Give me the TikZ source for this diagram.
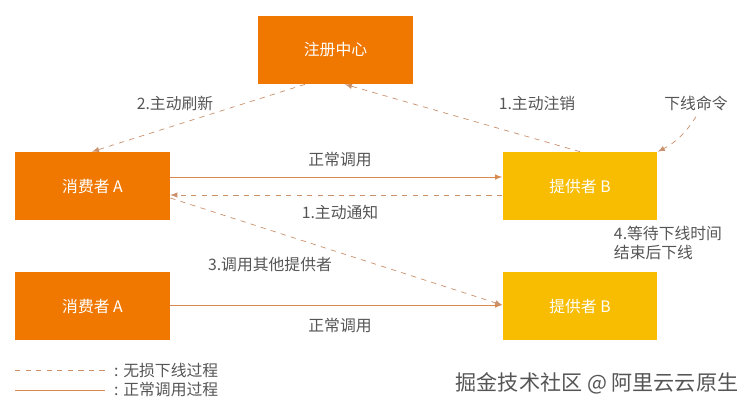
\documentclass[tikz,border=0pt]{standalone}
\usepackage{fontspec}
\setmainfont{Noto Sans CJK SC}
\usetikzlibrary{positioning}
\definecolor{boxorange}{HTML}{F07800}
\definecolor{boxyellow}{HTML}{F8BC00}
\definecolor{linecol}{HTML}{D98A4E}
\definecolor{dashcol}{HTML}{C9906A}
\definecolor{txtgray}{HTML}{555555}
\tikzset{
    consumer/.style = {
        draw = none,
        fill            = boxorange,
        text = white,
        minimum width = 3.1cm,
        minimum height = 1.36cm,
        font = \small,
    },
    provider/.style = {
        consumer,
        fill = boxyellow,
    },
    call/.style = {->,draw=linecol,>=latex},
    lossless/.style = {->,draw=dashcol,dashed,>=latex},
    lbl/.style = {text=txtgray,font=\small},
}
\begin{document}
\begin{tikzpicture}[x=0.02cm,y=-0.02cm]
  \useasboundingbox (0,0) rectangle (750,410);
  % boxes
  \node[consumer] (Registry) at (335.5,50) {注册中心};
  \node[consumer] (ConsumerTop) at (92.5,186) {消费者 A};
  \node[provider] (ProviderTop) at (580,186) {提供者 B};
  \node[consumer] (ConsumerBot) at (92.5,306) {消费者 A};
  \node[provider] (ProviderBot) at (580,306) {提供者 B};

  % normal calls
  \draw[call] (ConsumerTop.east |- 0,177) to (ProviderTop.west |- 0,177);
  \node[lbl] (CallTop) at (340,160) {正常调用};
  \draw[call] (ConsumerBot.east |- 0,305) to (ProviderBot.west |- 0,305);
  \node[lbl] (CallBot) at (340,326) {正常调用};

  % lossless offline
  \draw[lossless] (ProviderTop.west |- 0,195) to (ConsumerTop.east |- 0,195);
  \node[lbl] (Notify) at (340,212) {1.主动通知};
  \draw[lossless] (Registry.south -| 305,0) to (ConsumerTop.north -| 92,0);
  \node[lbl] (Refresh) at (175,103) {2.主动刷新};
  \draw[lossless] (ProviderTop.north) to (Registry.south -| 345,0);
  \node[lbl] (Deregister) at (537,103) {1.主动注销};
  \draw[lossless] (ConsumerTop.east |- 0,198) to (ProviderBot.west |- 0,305);
  \node[lbl] (Other) at (270,265) {3.调用其他提供者};

  % offline command
  \node[lbl] (Command) at (696,103) {下线命令};
  \draw[lossless] (Command.south) to[bend left=15] (ProviderTop.north east);
  \node[lbl,align=left] (Wait) at (668,243) {4.等待下线时间\\结束后下线};

  % legend
  \coordinate (DashA) at (15,370);
  \coordinate (DashB) at (105,370);
  \coordinate (SolidA) at (15,390);
  \coordinate (SolidB) at (105,390);
  \draw[draw=dashcol,dashed] (DashA) -- (DashB);
  \draw[draw=linecol] (SolidA) -- (SolidB);
  \node[lbl,anchor=west] (LegendDash) at (108,370) {: 无损下线过程};
  \node[lbl,anchor=west] (LegendSolid) at (108,390) {: 正常调用过程};

  \node[text=txtgray,font=\large] (Mark) at (597,383) {掘金技术社区 @ 阿里云云原生};
\end{tikzpicture}
\end{document}
